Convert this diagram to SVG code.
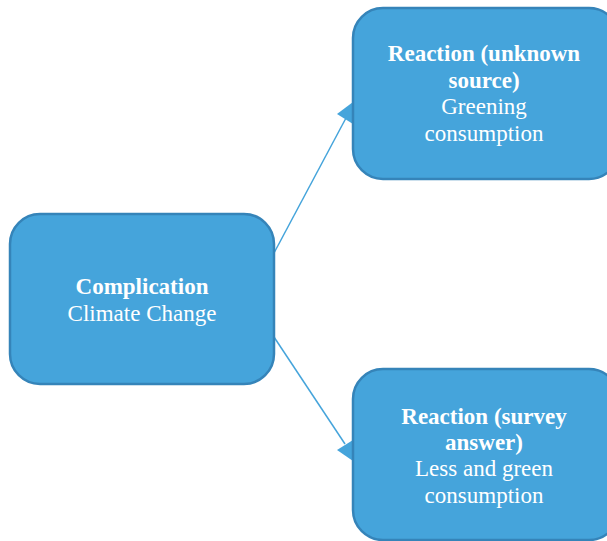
<svg xmlns="http://www.w3.org/2000/svg" width="607" height="541" viewBox="0 0 607 541">
  <style>
    .box { fill: #45a4db; stroke: #3584b9; stroke-width: 2.5; }
    .link { stroke: #45a4db; stroke-width: 1.5; fill: none; }
    .head { fill: #45a4db; }
    text { font-family: "Liberation Serif", "Times New Roman", serif; font-size: 23px; fill: #ffffff; text-anchor: middle; }
    .title { font-weight: bold; }
  </style>
  <rect width="607" height="541" fill="#ffffff"/>

  <g id="connectors">
    <line class="link" x1="274" y1="253" x2="346" y2="118"/>
    <polygon class="head" points="337,114 353,102 353,124"/>
    <line class="link" x1="274" y1="337" x2="345" y2="444"/>
    <polygon class="head" points="337,450 353,440 353,461"/>
  </g>

  <g id="complication">
    <rect class="box" x="10" y="214" width="264" height="170" rx="30" ry="30"/>
    <text class="title" x="142" y="294">Complication</text>
    <text x="142" y="321">Climate Change</text>
  </g>

  <g id="reaction-unknown">
    <rect class="box" x="353" y="8" width="266" height="171" rx="30" ry="30"/>
    <text class="title" x="484" y="61">Reaction (unknown</text>
    <text class="title" x="484" y="88">source)</text>
    <text x="484" y="114">Greening</text>
    <text x="484" y="141">consumption</text>
  </g>

  <g id="reaction-survey">
    <rect class="box" x="353" y="369" width="266" height="171" rx="30" ry="30"/>
    <text class="title" x="484" y="424">Reaction (survey</text>
    <text class="title" x="484" y="450">answer)</text>
    <text x="484" y="476">Less and green</text>
    <text x="484" y="503">consumption</text>
  </g>
</svg>
